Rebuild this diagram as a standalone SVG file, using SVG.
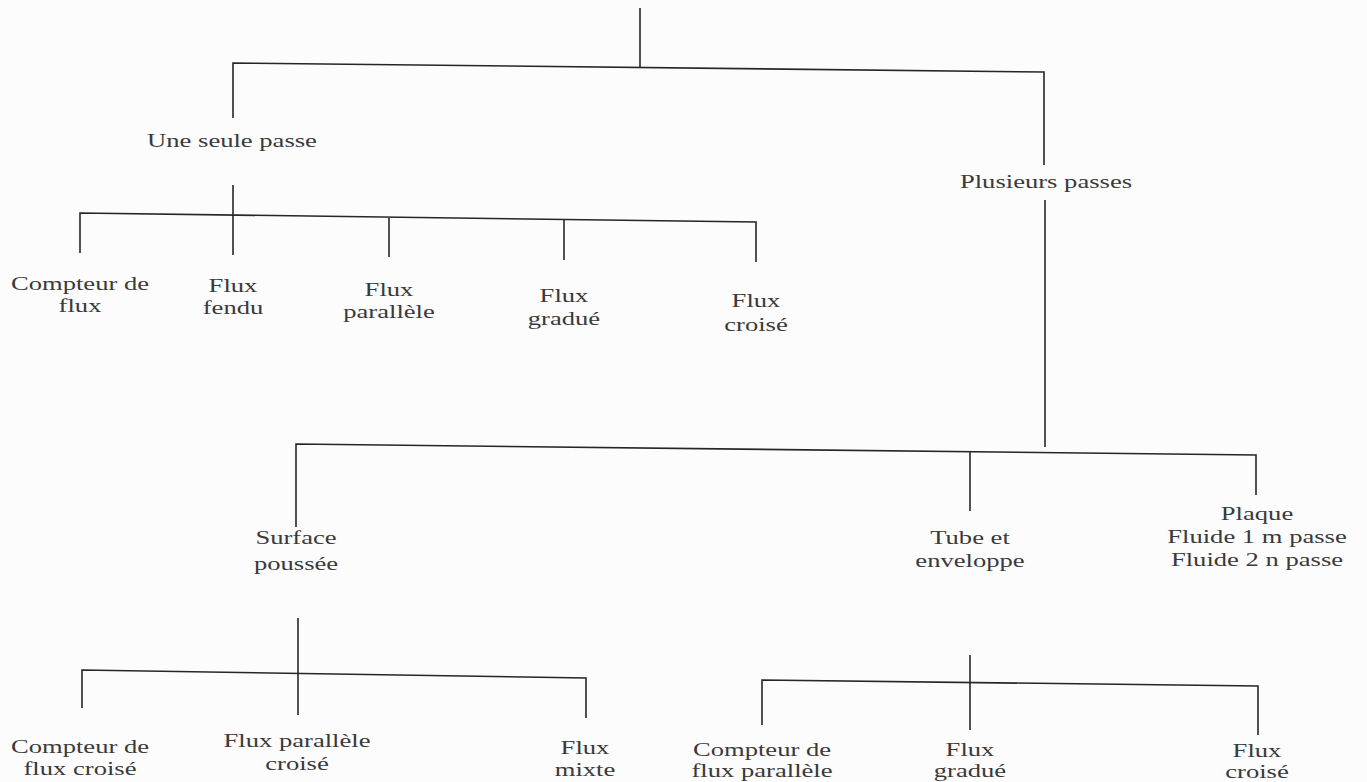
<svg xmlns="http://www.w3.org/2000/svg" width="1367" height="782" viewBox="0 0 1367 782">
<style>
.bg{fill:#fcfcfc}
.c line,.c polyline{stroke:#262626;stroke-width:1.6;fill:none}
text{font-family:"Liberation Serif","Times New Roman",serif;font-size:19px;fill:#3a3a3a;text-anchor:middle}
</style>
<rect class="bg" x="0" y="0" width="1367" height="782"/>
<g id="connectors" class="c">
<line x1="640" y1="8" x2="640" y2="68"/>
<polyline points="233,118 233,63 1044,72 1044,165"/>
<line x1="1045" y1="200" x2="1045" y2="447"/>
<line x1="233" y1="185" x2="233" y2="255"/>
<polyline points="80,253 80,213 756,222 756,262"/>
<line x1="389" y1="218" x2="389" y2="257"/>
<line x1="564" y1="220" x2="564" y2="260"/>
<polyline points="296,527 296,444 1256,455 1256,495"/>
<line x1="970" y1="451" x2="970" y2="511"/>
<line x1="298" y1="618" x2="298" y2="715"/>
<polyline points="82,708 82,670 586,678 586,718"/>
<line x1="970" y1="655" x2="970" y2="730"/>
<polyline points="762,725 762,680 1258,686 1258,735"/>
</g>
<g id="n-une"><text transform="translate(232,147) scale(1.4,1)">Une seule passe</text></g>
<g id="n-plusieurs"><text transform="translate(1046,188) scale(1.4,1)">Plusieurs passes</text></g>
<g id="n-cf"><text transform="translate(80,290) scale(1.4,1)">Compteur de</text><text transform="translate(80,312) scale(1.4,1)">flux</text></g>
<g id="n-ff"><text transform="translate(233,292) scale(1.4,1)">Flux</text><text transform="translate(233,314) scale(1.4,1)">fendu</text></g>
<g id="n-fp"><text transform="translate(389,296) scale(1.4,1)">Flux</text><text transform="translate(389,318) scale(1.4,1)">parallèle</text></g>
<g id="n-fg"><text transform="translate(564,302) scale(1.4,1)">Flux</text><text transform="translate(564,325) scale(1.4,1)">gradué</text></g>
<g id="n-fc"><text transform="translate(756,307) scale(1.4,1)">Flux</text><text transform="translate(756,331) scale(1.4,1)">croisé</text></g>
<g id="n-surface"><text transform="translate(296,544) scale(1.4,1)">Surface</text><text transform="translate(296,570) scale(1.4,1)">poussée</text></g>
<g id="n-tube"><text transform="translate(970,544) scale(1.4,1)">Tube et</text><text transform="translate(970,567) scale(1.4,1)">enveloppe</text></g>
<g id="n-plaque"><text transform="translate(1257,520) scale(1.4,1)">Plaque</text><text transform="translate(1257,543) scale(1.4,1)">Fluide 1 m passe</text><text transform="translate(1257,566) scale(1.4,1)">Fluide 2 n passe</text></g>
<g id="n-cfc"><text transform="translate(80,753) scale(1.4,1)">Compteur de</text><text transform="translate(80,775) scale(1.4,1)">flux croisé</text></g>
<g id="n-fpc"><text transform="translate(297,747) scale(1.4,1)">Flux parallèle</text><text transform="translate(297,770) scale(1.4,1)">croisé</text></g>
<g id="n-fm"><text transform="translate(585,754) scale(1.4,1)">Flux</text><text transform="translate(585,776) scale(1.4,1)">mixte</text></g>
<g id="n-cfp"><text transform="translate(762,756) scale(1.4,1)">Compteur de</text><text transform="translate(762,777) scale(1.4,1)">flux parallèle</text></g>
<g id="n-fg2"><text transform="translate(970,756) scale(1.4,1)">Flux</text><text transform="translate(970,777) scale(1.4,1)">gradué</text></g>
<g id="n-fc2"><text transform="translate(1257,757) scale(1.4,1)">Flux</text><text transform="translate(1257,778) scale(1.4,1)">croisé</text></g>
</svg>
